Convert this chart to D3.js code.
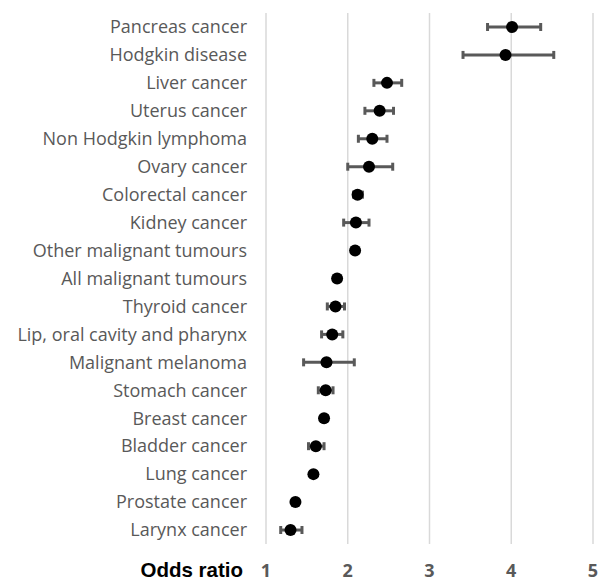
<!DOCTYPE html>
<html>
<head>
<meta charset="utf-8">
<script src="https://cdn.jsdelivr.net/npm/d3@7"></script>
<style>
  body { margin: 0; background: #fff; }
  svg { display: block; }
</style>
</head>
<body>
<svg id="chart"></svg>
<script>
const categories = [
    "Pancreas cancer", "Hodgkin disease", "Liver cancer", "Uterus cancer",
    "Non Hodgkin lymphoma", "Ovary cancer", "Colorectal cancer", "Kidney cancer",
    "Other malignant tumours", "All malignant tumours", "Thyroid cancer",
    "Lip, oral cavity and pharynx", "Malignant melanoma", "Stomach cancer",
    "Breast cancer", "Bladder cancer", "Lung cancer", "Prostate cancer", "Larynx cancer"
];
const oddsRatio = [4.01, 3.93, 2.48, 2.39, 2.30, 2.26, 2.12, 2.10, 2.09, 1.87, 1.85, 1.81, 1.74, 1.73, 1.71, 1.61, 1.58, 1.36, 1.30];
const ciLow = [3.71, 3.41, 2.32, 2.21, 2.13, 2.00, 2.07, 1.95, 2.07, 1.86, 1.75, 1.68, 1.46, 1.64, 1.68, 1.52, 1.56, 1.34, 1.18];
const ciHigh = [4.36, 4.52, 2.66, 2.56, 2.48, 2.55, 2.18, 2.26, 2.11, 1.88, 1.96, 1.94, 2.08, 1.82, 1.75, 1.71, 1.60, 1.38, 1.44];
const xTicks = [1, 2, 3, 4, 5];

const width = 598;
const height = 582;
const margin = { top: 13, right: 5, bottom: 38, left: 266 };

const svg = d3.select("#chart")
    .attr("width", width)
    .attr("height", height);

const x = d3.scaleLinear()
    .domain([1, 5])
    .range([margin.left, 593]);

const y = d3.scaleBand()
    .domain(categories)
    .range([margin.top, height - margin.bottom])
    .padding(0);

// vertical gridlines
svg.append("g")
    .selectAll("line")
    .data(xTicks)
    .join("line")
    .attr("x1", d => x(d))
    .attr("x2", d => x(d))
    .attr("y1", margin.top)
    .attr("y2", height - margin.bottom)
    .attr("stroke", "#d9d9d9")
    .attr("stroke-width", 1.5);

// tick labels
svg.append("g")
    .selectAll("text")
    .data(xTicks)
    .join("text")
    .attr("x", d => x(d))
    .attr("y", 577)
    .attr("text-anchor", "middle")
    .attr("fill", "#595959")
    .attr("font-family", "'Open Sans', sans-serif")
    .attr("font-weight", "bold")
    .attr("font-size", 18)
    .text(d => d);

svg.append("text")
    .attr("x", 243)
    .attr("y", 577)
    .attr("text-anchor", "end")
    .attr("fill", "#000")
    .attr("font-family", "'Liberation Sans', Arial, sans-serif")
    .attr("font-weight", "bold")
    .attr("font-size", 20.5)
    .text("Odds ratio");

// category labels
svg.append("g")
    .selectAll("text")
    .data(categories)
    .join("text")
    .attr("x", 247)
    .attr("y", d => y(d) + y.bandwidth() / 2)
    .attr("dy", "0.35em")
    .attr("text-anchor", "end")
    .attr("fill", "#595959")
    .attr("font-family", "'Open Sans', sans-serif")
    .attr("font-size", 18)
    .text(d => d);

const rows = categories.map((c, i) => ({ c, or: oddsRatio[i], lo: ciLow[i], hi: ciHigh[i] }));
const cy = d => y(d.c) + y.bandwidth() / 2;

// error bars
const bars = svg.append("g").attr("stroke", "#595959");
bars.selectAll("line.ci")
    .data(rows)
    .join("line")
    .attr("class", "ci")
    .attr("x1", d => x(d.lo))
    .attr("x2", d => x(d.hi))
    .attr("y1", cy)
    .attr("y2", cy)
    .attr("stroke-width", 3);

bars.selectAll("line.capl")
    .data(rows)
    .join("line")
    .attr("class", "capl")
    .attr("x1", d => x(d.lo))
    .attr("x2", d => x(d.lo))
    .attr("y1", d => cy(d) - 4)
    .attr("y2", d => cy(d) + 4)
    .attr("stroke-width", 3);

bars.selectAll("line.caph")
    .data(rows)
    .join("line")
    .attr("class", "caph")
    .attr("x1", d => x(d.hi))
    .attr("x2", d => x(d.hi))
    .attr("y1", d => cy(d) - 4)
    .attr("y2", d => cy(d) + 4)
    .attr("stroke-width", 3);

// points
svg.append("g")
    .selectAll("circle")
    .data(rows)
    .join("circle")
    .attr("cx", d => x(d.or))
    .attr("cy", cy)
    .attr("r", 6)
    .attr("fill", "#000");
</script>
</body>
</html>
